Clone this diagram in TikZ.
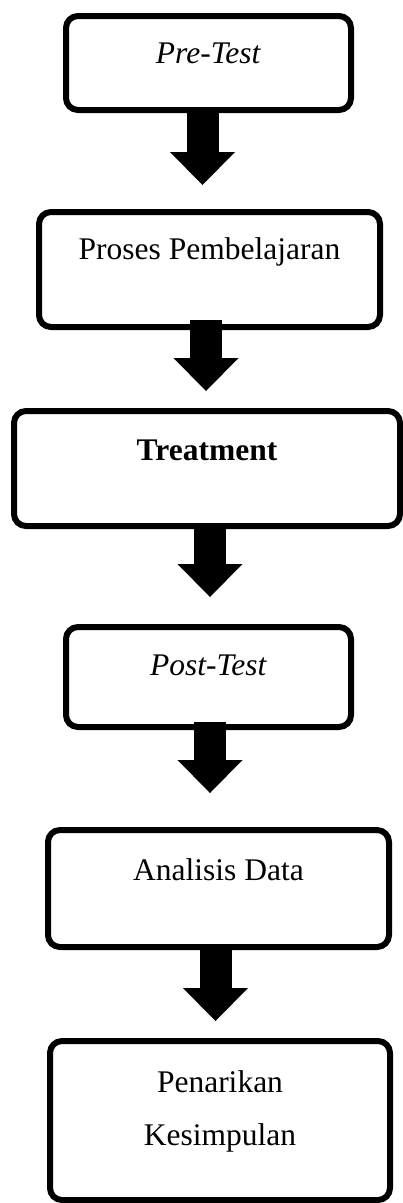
\documentclass[tikz,border=0pt]{standalone}
\usepackage{fontspec}
\setmainfont{Liberation Serif}
\usetikzlibrary{arrows.meta}
\tikzset{
  step-box/.style={
    draw=black,
    line width=6pt,
    rounded corners=12pt,
    inner xsep=0pt,
    inner ysep=0pt,
    outer sep=0pt,
    font=\fontsize{31.5}{53}\selectfont
  },
  flow-arrow/.style={
    line width=32pt,
    -{Triangle[width=65pt,length=33pt,line width=0pt]}
  },
}
\begin{document}
\begin{tikzpicture}[x=1pt,y=-1pt]

  \useasboundingbox (0,0) rectangle (403,1203);

  % steps
  \node[step-box, minimum width=285pt, text height=47pt, text depth=47pt] (pre) at (208.5,63) {\textit{Pre-Test}};
  \node[step-box, minimum width=341pt, text height=47pt, text depth=68pt] (proses) at (209.5,269.5) {Proses Pembelajaran};
  \node[step-box, minimum width=386pt, text height=49pt, text depth=66pt] (treat) at (207,468.5) {\textbf{Treatment}};
  \node[step-box, minimum width=285pt, text height=48pt, text depth=52pt] (post) at (208.5,677) {\textit{Post-Test}};
  \node[step-box, minimum width=341pt, text height=50pt, text depth=67pt] (analisis) at (218.5,888.5) {Analisis Data};
  \node[step-box, minimum width=340pt, text height=104pt, text depth=55pt, align=center] (tarik) at (220,1120.5) {Penarikan\\Kesimpulan};

  % arrows
  \draw[flow-arrow, shorten >=27pt] ([xshift=-6pt]pre.south) coordinate (a1) -- (a1 |- proses.north);
  \draw[flow-arrow, shorten >=20pt] ([xshift=-3.5pt,yshift=7pt]proses.south) coordinate (a2) -- (a2 |- treat.north);
  \draw[flow-arrow, shorten >=30pt] ([xshift=3pt]treat.south) coordinate (a3) -- (a3 |- post.north);
  \draw[flow-arrow, shorten >=37pt] ([xshift=1.5pt,yshift=5pt]post.south) coordinate (a4) -- (a4 |- analisis.north);
  \draw[flow-arrow, shorten >=20pt] ([xshift=-3pt]analisis.south) coordinate (a5) -- (a5 |- tarik.north);

\end{tikzpicture}
\end{document}
